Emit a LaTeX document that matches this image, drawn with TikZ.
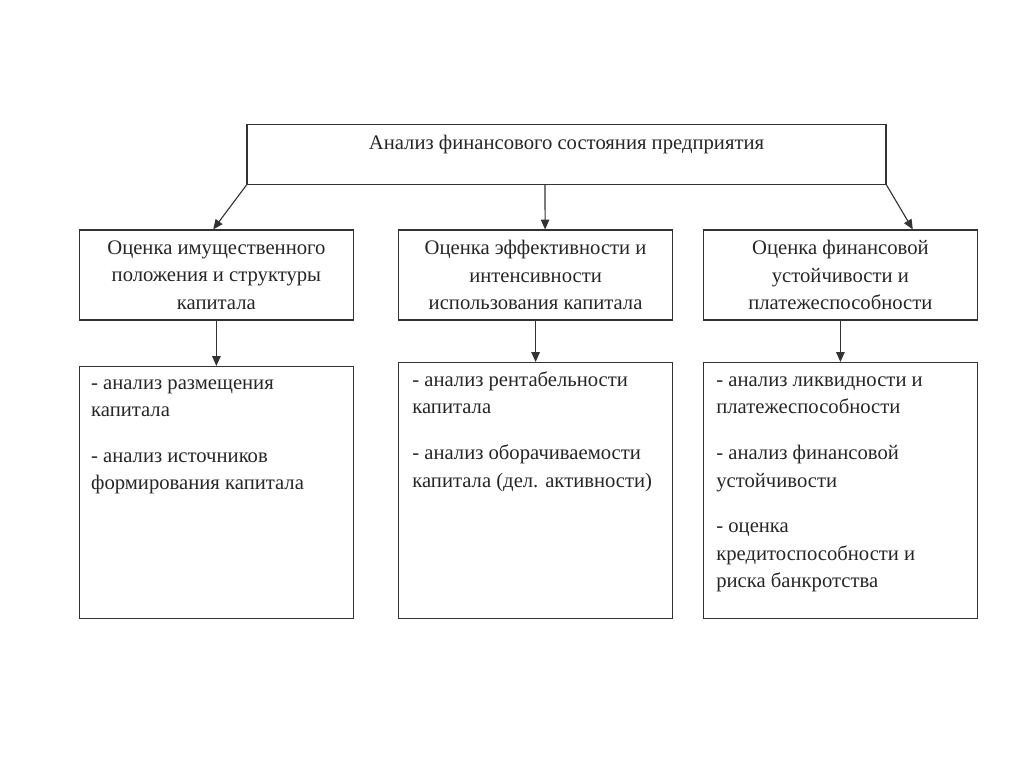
\documentclass[tikz,border=0pt]{standalone}
\usepackage{fontspec}
\setmainfont{Liberation Serif}
\usetikzlibrary{arrows.meta,positioning}

\begin{document}
\begin{tikzpicture}[
    every node/.style={text=black!85, font=\fontsize{14.7}{19.6}\selectfont},
    box/.style={rectangle, draw=black!80, line width=0.8pt, inner sep=0pt},
    headbox/.style={box, minimum width=6.85cm, minimum height=2.25cm, align=center},
    listbox/.style={box, minimum width=6.85cm, minimum height=6.4cm, anchor=north},
    listtext/.style={anchor=north west, align=left, inner sep=0pt},
    arr/.style={draw=black!80, line width=0.8pt, -{Triangle[length=7pt,width=6pt]}}
]
    \useasboundingbox (0,0) rectangle (25.6,-19.175);

    % Nodes
    \node[box, minimum width=15.975cm, text height=0.62cm, text depth=0.88cm, anchor=north] (top) at (14.1625,-3.1) {Анализ финансового состояния предприятия};

    \node[headbox] (m1) at (5.41,-6.875) {Оценка имущественного\\положения и структуры\\капитала};
    \node[headbox] (m2) at (13.39,-6.875) {Оценка эффективности и\\интенсивности\\использования капитала};
    \node[headbox] (m3) at (21.01,-6.875) {Оценка финансовой\\устойчивости и\\платежеспособности};

    \node[listbox, minimum height=6.3cm] (l1) at (5.41,-9.15) {};
    \node[listbox] (l2) at (13.39,-9.05) {};
    \node[listbox] (l3) at (21.01,-9.05) {};

    \node[listtext] (t1) at ([xshift=0.3cm,yshift=-0.09cm]l1.north west) {\strut- анализ размещения\\капитала\\[0.45cm]- анализ источников\\формирования капитала};
    \node[listtext] (t2) at ([xshift=0.35cm,yshift=-0.12cm]l2.north west) {\strut- анализ рентабельности\\капитала\\[0.45cm]- анализ оборачиваемости\\капитала (дел. активности)};
    \node[listtext] (t3) at ([xshift=0.33cm,yshift=-0.12cm]l3.north west) {\strut- анализ ликвидности и\\платежеспособности\\[0.45cm]- анализ финансовой\\устойчивости\\[0.45cm]- оценка\\кредитоспособности и\\риска банкротства};

    % Edges
    \draw[arr] (top.south west) -- ([xshift=-0.08cm]m1.north);
    \draw[arr] ([xshift=-0.5375cm]top.south) -- ([xshift=0.2375cm]m2.north);
    \draw[arr] (top.south east) -- ([xshift=1.81cm]m3.north);

    \draw[arr] (m1) -- (l1);
    \draw[arr] (m2) -- (l2);
    \draw[arr] (m3) -- (l3);
\end{tikzpicture}
\end{document}
